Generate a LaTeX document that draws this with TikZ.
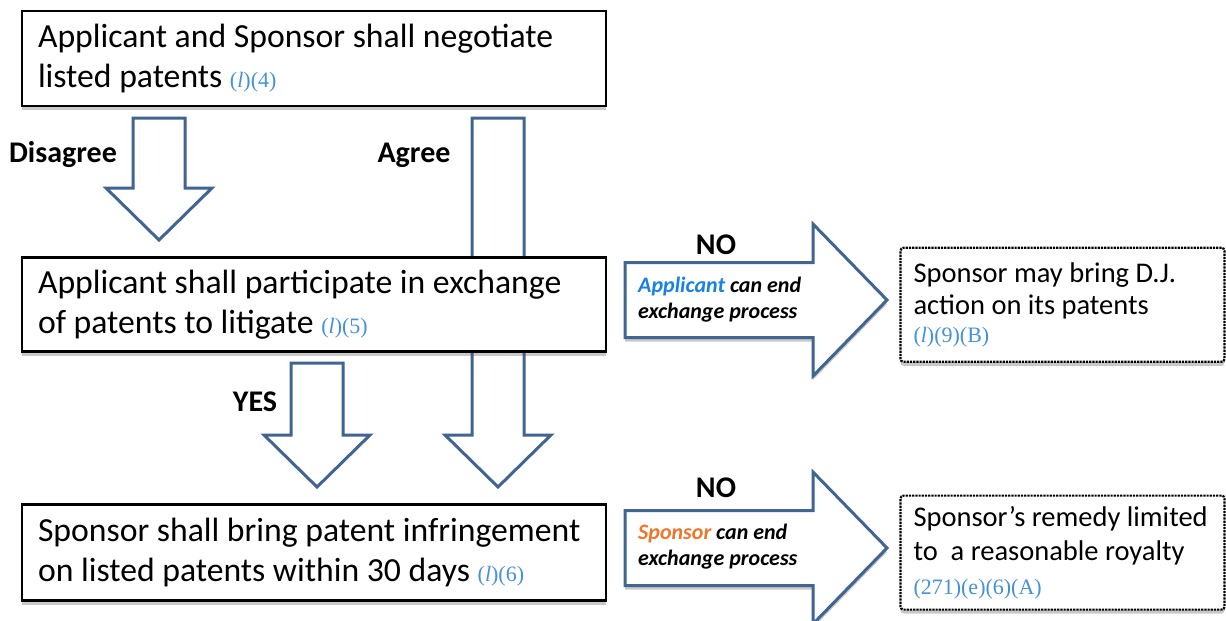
\documentclass[tikz,border=0pt]{standalone}
\usepackage{fontspec}
\setmainfont{Carlito}
\newfontfamily\citefont{Liberation Serif}
\usetikzlibrary{positioning, shadows}
\definecolor{arrowblue}{RGB}{65,100,145}
\definecolor{citeblue}{RGB}{70,145,215}
\definecolor{appblue}{RGB}{25,130,225}
\definecolor{sponsororange}{RGB}{235,120,45}
% statute references in the boxes
\newcommand{\lawref}[1]{{\citefont\fontsize{22}{26}\selectfont\color{citeblue}#1}}
% hollow block arrows: centre, tail, head base, tip
\newcommand{\downblock}[4]{%
  \draw[blockarrow] (#1-26,#2) -- (#1+26,#2) -- (#1+26,#3) -- (#1+53,#3)
    -- (#1,#4) -- (#1-53,#3) -- (#1-26,#3) -- cycle;}
\newcommand{\rightblock}[4]{%
  \draw[blockarrow, boxshadow] (#2,#1-37.5) -- (#3,#1-37.5) -- (#3,#1-76)
    -- (#4,#1) -- (#3,#1+76) -- (#3,#1+37.5) -- (#2,#1+37.5) -- cycle;}
\tikzset{
  boxshadow/.style={drop shadow={shadow xshift=0pt, shadow yshift=-4pt,
    opacity=.3, fill=black!70}},
  stepbox/.style={
    rectangle, draw=black, line width=2.8pt, fill=white,
    minimum width=584pt, text width=552pt, inner xsep=16pt, inner ysep=4pt,
    align=flush left, font=\fontsize{33.7}{40}\selectfont, boxshadow
  },
  outcome/.style={
    rectangle, rounded corners=3pt, draw=black, densely dotted, line width=2.2pt,
    fill=white, minimum width=324pt, minimum height=114pt, text width=298pt,
    inner xsep=13pt, align=flush left, font=\fontsize{28.5}{34}\selectfont, boxshadow
  },
  blockarrow/.style={draw=arrowblue, line width=3pt, fill=white, line join=miter},
  answer/.style={font=\bfseries\fontsize{30}{32}\selectfont},
  note/.style={font=\bfseries\itshape\fontsize{22}{26}\selectfont, align=left,
    anchor=west, inner sep=0pt}
}

\begin{document}
\begin{tikzpicture}[x=1pt, y=-1pt]
  \useasboundingbox (0,0) rectangle (1226,621);

  % long Agree arrow runs behind the middle box
  \downblock{498}{118}{435}{487}

  \node[stepbox, minimum height=95pt] (negotiate) at (314,58.5)
    {Applicant and Sponsor shall negotiate\\listed patents \lawref{(\textit{l})(4)}};
  \node[stepbox, minimum height=94pt, below=149pt of negotiate] (exchange)
    {Applicant shall participate in exchange\\of patents to litigate \lawref{(\textit{l})(5)}};
  \node[stepbox, minimum height=96pt, below=150pt of exchange] (infringe)
    {Sponsor shall bring patent infringement\\on listed patents within 30 days \lawref{(\textit{l})(6)}};

  \node[outcome, right=292pt of exchange] (djaction)
    {Sponsor may bring D.J.\\[-2pt]action on its patents\\[-6pt]\lawref{(\textit{l})(9)(B)}};
  \node[outcome, right=292pt of infringe] (royalty)
    {Sponsor’s remedy limited\\to\ \ a reasonable royalty\\\lawref{(271)(e)(6)(A)}};

  \downblock{159}{118}{188}{240}
  \downblock{317}{363}{435}{487}
  \rightblock{300}{625}{813}{887}
  \rightblock{548}{625}{813}{887}

  \node[answer] (disagree) at (63,155) {Disagree};
  \node[answer] (agree) at (414,155) {Agree};
  \node[answer] (yes) at (255,402) {YES};
  \node[answer] (no1) at (716,245) {NO};
  \node[answer] (no2) at (716,488) {NO};

  \node[note] (appends) at (638,300)
    {{\color{appblue}Applicant} can end\\exchange process};
  \node[note] (sponends) at (638,547)
    {{\color{sponsororange}Sponsor} can end\\exchange process};
\end{tikzpicture}
\end{document}
